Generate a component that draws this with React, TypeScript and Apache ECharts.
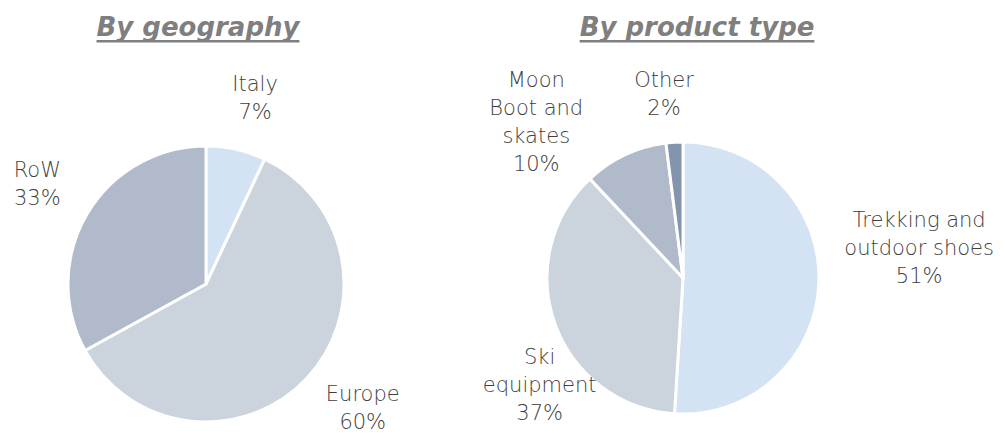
import React, { useEffect, useRef } from "react";
import * as echarts from "echarts";

const geoCategories = ["Italy", "Europe", "RoW"];
const geoValues = [7, 60, 33];
const productCategories = ["Trekking and\noutdoor shoes", "Ski\nequipment", "Moon\nBoot and\nskates", "Other"];
const productValues = [51, 37, 10, 2];
const titles = ["By geography", "By product type"];

const geoColors = ["#D3E3F4", "#CBD3DD", "#B0BACB"];
const productColors = ["#D3E3F4", "#CBD3DD", "#B0BACB", "#8395AD"];

// label placement around each pie: [angle clockwise from top (deg), distance from centre (px)]
const geoLabelPolar = [[14.8, 192], [128.4, 200], [300.6, 196]];
const productLabelPolar = [[82.8, 238], [233.2, 179], [316.7, 214], [354.1, 185]];

const FONT = "DejaVu Sans";

function measure(text: string, font: string) {
  const c = document.createElement("canvas").getContext("2d")!;
  c.font = font;
  return c.measureText(text).width;
}

export default function App() {
  const ref = useRef<HTMLDivElement>(null);
  useEffect(() => {
    const chart = echarts.init(ref.current!, null, { renderer: "svg" });
    const geoCenter = [206, 284];
    const prodCenter = [683, 278];

    const makeLayout = (center: number[], polar: number[][]) => (p: any) => {
      const [a, d] = polar[p.dataIndex];
      const rad = (a * Math.PI) / 180;
      return {
        x: center[0] + d * Math.sin(rad),
        y: center[1] - d * Math.cos(rad),
        align: "center",
        verticalAlign: "middle",
      };
    };

    const titleFontSize = 26;
    const titleFont = `italic bold ${titleFontSize}px "${FONT}"`;
    const titleCenters = [198, 697];
    const titleGraphics: any[] = [];
    titles.forEach((t, i) => {
      const w = measure(t, titleFont);
      titleGraphics.push({
        type: "text",
        x: titleCenters[i],
        y: 27,
        style: {
          text: t,
          fill: "#7F7F7F",
          font: titleFont,
          align: "center",
          verticalAlign: "middle",
        },
      });
      titleGraphics.push({
        type: "rect",
        shape: { x: titleCenters[i] - w / 2, y: 40, width: w, height: 2.5 },
        style: { fill: "#7F7F7F" },
      });
    });

    const labelStyle = {
      show: true,
      position: "outside",
      alignTo: "none",
      overflow: "none",
      bleedMargin: 0,
      formatter: "{b}\n{d}%",
      fontFamily: FONT,
      fontWeight: 200,
      fontSize: 21,
      lineHeight: 28,
      color: "#404040",
      align: "center",
    };

    chart.setOption({
      animation: false,
      backgroundColor: "#FFFFFF",
      graphic: titleGraphics,
      series: [
        {
          type: "pie",
          center: geoCenter,
          radius: [0, 138],
          startAngle: 90,
          clockwise: true,
          percentPrecision: 0,
          label: labelStyle,
          labelLine: { show: false },
          labelLayout: makeLayout(geoCenter, geoLabelPolar),
          itemStyle: { borderColor: "#FFFFFF", borderWidth: 3 },
          emphasis: { disabled: true },
          data: geoCategories.map((n, i) => ({
            name: n,
            value: geoValues[i],
            itemStyle: { color: geoColors[i] },
          })),
        },
        {
          type: "pie",
          center: prodCenter,
          radius: [0, 136],
          startAngle: 90,
          clockwise: true,
          percentPrecision: 0,
          label: labelStyle,
          labelLine: { show: false },
          labelLayout: makeLayout(prodCenter, productLabelPolar),
          itemStyle: { borderColor: "#FFFFFF", borderWidth: 3 },
          emphasis: { disabled: true },
          data: productCategories.map((n, i) => ({
            name: n,
            value: productValues[i],
            itemStyle: { color: productColors[i] },
          })),
        },
      ],
    });
    return () => chart.dispose();
  }, []);
  return (
    <div
      ref={ref}
      style={{ position: "fixed", left: 0, top: 0, width: 1005, height: 435 }}
    />
  );
}
